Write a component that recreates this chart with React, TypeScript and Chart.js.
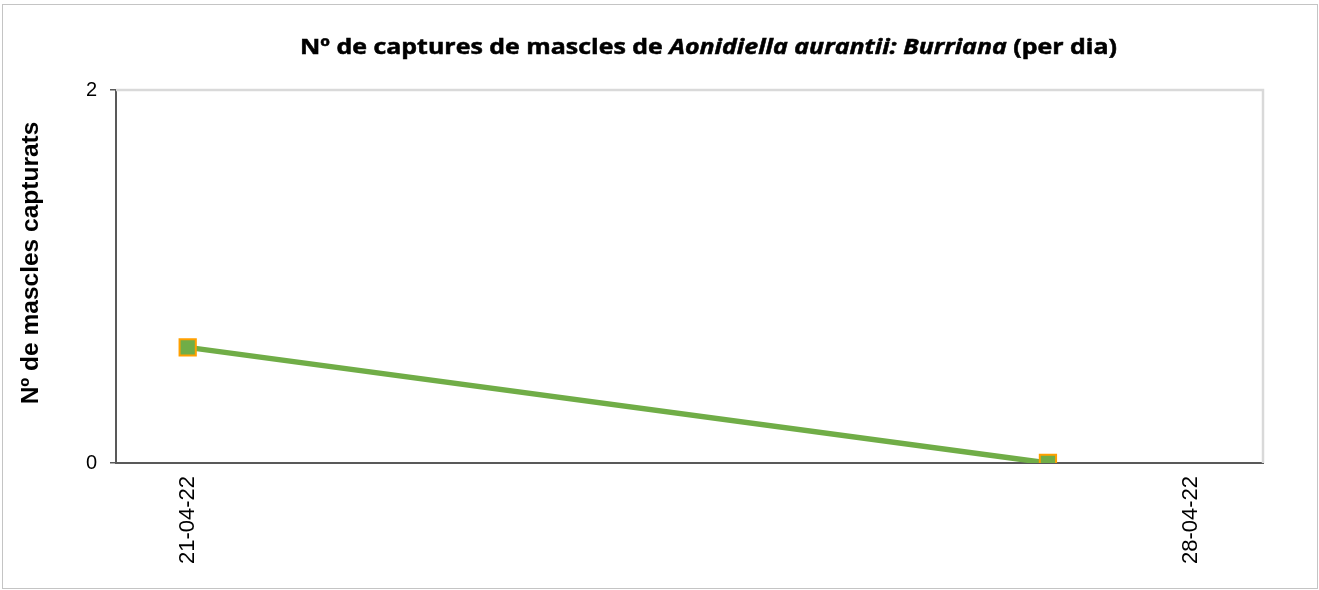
import React, { useEffect, useRef } from 'react';
import { Chart, registerables } from 'chart.js';

Chart.register(...registerables);

// ---- data ----
const pointDates = ['21-04-22', '27-04-22'];
const pointDays = [21, 27];
const captures = [0.62, 0];
const tickDays = [21, 28];
const tickLabels = ['21-04-22', '28-04-22'];
const yTickValues = [0, 2];
const titleParts = [
  { text: 'Nº de captures de mascles de ', italic: false },
  { text: 'Aonidiella aurantii: Burriana', italic: true },
  { text: ' (per dia)', italic: false },
];
const yTitle = 'Nº de mascles capturats';

const decorPlugin = {
  id: 'decor',
  beforeDatasetsDraw(chart: any) {
    const { ctx, chartArea: a } = chart;
    ctx.save();
    ctx.strokeStyle = '#d9d9d9';
    ctx.lineWidth = 2.5;
    ctx.beginPath();
    ctx.moveTo(a.left, a.top);
    ctx.lineTo(a.right, a.top);
    ctx.lineTo(a.right, a.bottom);
    ctx.stroke();
    ctx.restore();
  },
  afterDraw(chart: any) {
    const { ctx } = chart;
    // title with mixed styles
    ctx.save();
    const size = 21;
    const fonts = titleParts.map(
      (p) => `${p.italic ? 'italic ' : ''}bold ${size}px "Open Sans", sans-serif`
    );
    const widths = titleParts.map((p, i) => {
      ctx.font = fonts[i];
      return ctx.measureText(p.text).width;
    });
    const total = widths.reduce((s, w) => s + w, 0);
    const left = 300;
    const right = 1117;
    const sx = (right - left) / total;
    ctx.translate(left, 54);
    ctx.scale(sx, 1);
    ctx.fillStyle = '#000';
    ctx.strokeStyle = '#000';
    ctx.lineWidth = 0.5;
    ctx.textBaseline = 'alphabetic';
    ctx.textAlign = 'left';
    let x = 0;
    titleParts.forEach((p, i) => {
      ctx.font = fonts[i];
      ctx.fillText(p.text, x, 0);
      ctx.strokeText(p.text, x, 0);
      x += widths[i];
    });
    ctx.restore();

    // y axis title
    ctx.save();
    ctx.translate(38, 263);
    ctx.rotate(-Math.PI / 2);
    ctx.font = 'bold 24.5px "Liberation Sans", Arial, sans-serif';
    ctx.fillStyle = '#000';
    ctx.textAlign = 'center';
    ctx.textBaseline = 'alphabetic';
    ctx.fillText(yTitle, 0, 0);
    ctx.restore();
  },
};

export default function App() {
  const canvasRef = useRef<HTMLCanvasElement | null>(null);

  useEffect(() => {
    if (!canvasRef.current) return;
    Chart.defaults.font.family = '"Liberation Sans", Arial, sans-serif';
    const chart = new Chart(canvasRef.current, {
      type: 'line',
      data: {
        labels: pointDates,
        datasets: [
          {
            label: 'Burriana',
            data: pointDays.map((d, i) => ({ x: d, y: captures[i] })),
            borderColor: '#70AD47',
            borderWidth: 5.5,
            backgroundColor: '#70AD47',
            pointStyle: 'rect',
            pointRadius: 11.5,
            pointBackgroundColor: '#70AD47',
            pointBorderColor: '#FFA000',
            pointBorderWidth: 2,
            tension: 0,
          },
        ],
      },
      options: {
        animation: false,
        responsive: true,
        maintainAspectRatio: false,
        layout: { padding: { top: 90, right: 56, bottom: 0, left: 0 } },
        plugins: {
          legend: { display: false },
          title: { display: false },
          tooltip: { enabled: false },
        },
        scales: {
          x: {
            type: 'linear',
            min: 20.5,
            max: 28.5,
            afterBuildTicks: (axis: any) => {
              axis.ticks = tickDays.map((v) => ({ value: v }));
            },
            afterFit: (axis: any) => {
              axis.height = 127;
            },
            ticks: {
              autoSkip: false,
              maxRotation: 90,
              minRotation: 90,
              padding: 5,
              color: '#000',
              font: { size: 22 },
              callback: (v: any) => {
                const i = tickDays.indexOf(Number(v));
                return i >= 0 ? tickLabels[i] : '';
              },
            },
            grid: { display: false },
            border: { display: true, color: '#595959', width: 2 },
          },
          y: {
            min: 0,
            max: 2,
            afterBuildTicks: (axis: any) => {
              axis.ticks = yTickValues.map((v) => ({ value: v }));
            },
            afterFit: (axis: any) => {
              axis.width = 116;
            },
            ticks: {
              padding: 13,
              color: '#000',
              font: { size: 20 },
            },
            grid: {
              drawOnChartArea: false,
              drawTicks: true,
              tickLength: 6,
              color: '#595959',
              lineWidth: 1.5,
            },
            border: { display: true, color: '#595959', width: 2 },
          },
        },
      },
      plugins: [decorPlugin],
    });
    return () => chart.destroy();
  }, []);

  return (
    <div style={{ position: 'absolute', left: 0, top: 0, width: 1319, height: 590, background: '#fff' }}>
      <div
        style={{
          position: 'absolute',
          left: 2,
          top: 4,
          width: 1316,
          height: 585,
          border: '1px solid #c4c4c4',
          boxSizing: 'border-box',
        }}
      />
      <div style={{ position: 'absolute', left: 0, top: 0, width: 1319, height: 590 }}>
        <canvas ref={canvasRef} />
      </div>
    </div>
  );
}
